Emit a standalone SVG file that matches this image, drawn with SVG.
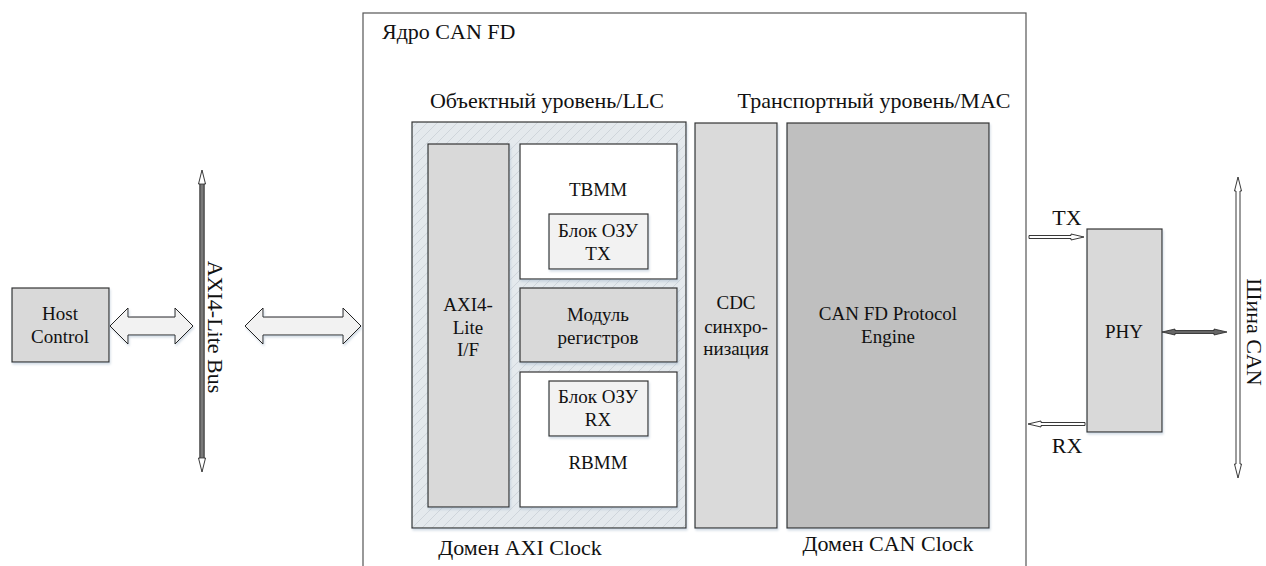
<svg xmlns="http://www.w3.org/2000/svg" width="1266" height="566" viewBox="0 0 1266 566">
<style>
  text { font-family: "Liberation Serif", "Times New Roman", serif; fill: #111; }
  .t18 { font-size: 19px; text-anchor: middle; }
  .t17 { font-size: 19px; text-anchor: middle; }
  .hdr { font-size: 22px; }
  .box { stroke: #333; stroke-width: 1.2; }
  .g1 { fill: #d9d9d9; }
  .g2 { fill: #bfbfbf; }
  .w { fill: #ffffff; }
  .lt { fill: #f2f2f2; }
  .arr { fill: #f2f2f2; stroke: #222; stroke-width: 1; stroke-linejoin: miter; }
  .thin { fill: #ffffff; stroke: #222; stroke-width: 0.9; }
</style>
<defs>
  <pattern id="hatch" patternUnits="userSpaceOnUse" width="10" height="10">
    <rect width="10" height="10" fill="#e4e9ed"/>
    <path d="M0,10 L10,0 M-1,1 L1,-1 M9,11 L11,9" stroke="#cdd3d9" stroke-width="0.9"/>
  </pattern>
  <filter id="sh" x="-10%" y="-10%" width="120%" height="120%">
    <feDropShadow dx="1" dy="2" stdDeviation="1.2" flood-color="#9fb3c8" flood-opacity="0.45"/>
  </filter>
</defs>

<g id="core">
  <rect x="363" y="13" width="663" height="600" fill="#ffffff" stroke="#555" stroke-width="1.2"/>
  <text class="hdr" x="382" y="39">Ядро CAN FD</text>
  <text class="hdr" x="547" y="108" text-anchor="middle">Объектный уровень/LLC</text>
  <text class="hdr" x="874" y="108" text-anchor="middle">Транспортный уровень/MAC</text>
  <text class="hdr" x="520" y="555" text-anchor="middle">Домен AXI Clock</text>
  <text class="hdr" x="888" y="551" text-anchor="middle">Домен CAN Clock</text>
</g>

<g id="axi-domain">
  <rect x="412" y="122" width="274" height="406" fill="url(#hatch)" class="box" filter="url(#sh)"/>
</g>

<g id="host-control">
  <rect x="12" y="288" width="97" height="74" class="box g1" filter="url(#sh)"/>
  <text class="t18" x="60" y="320">Host</text>
  <text class="t18" x="60" y="343">Control</text>
</g>

<g id="axi-if">
  <rect x="428" y="144" width="81" height="363" class="box g1" filter="url(#sh)"/>
  <text class="t18" x="468" y="311">AXI4-</text>
  <text class="t18" x="468" y="334">Lite</text>
  <text class="t18" x="468" y="356">I/F</text>
</g>

<g id="tbmm">
  <rect x="520" y="144" width="157" height="135" class="box w" filter="url(#sh)"/>
  <text class="t18" x="598" y="196">TBMM</text>
</g>
<g id="ram-tx">
  <rect x="549" y="214" width="99" height="55" class="box lt" filter="url(#sh)"/>
  <text class="t17" x="598" y="237">Блок ОЗУ</text>
  <text class="t17" x="598" y="260">TX</text>
</g>

<g id="regs">
  <rect x="520" y="288" width="157" height="74" class="box g1" filter="url(#sh)"/>
  <text class="t17" x="598" y="321">Модуль</text>
  <text class="t17" x="598" y="344">регистров</text>
</g>

<g id="rbmm">
  <rect x="520" y="372" width="157" height="135" class="box w" filter="url(#sh)"/>
  <text class="t18" x="598" y="469">RBMM</text>
</g>
<g id="ram-rx">
  <rect x="549" y="381" width="99" height="55" class="box lt" filter="url(#sh)"/>
  <text class="t17" x="598" y="403">Блок ОЗУ</text>
  <text class="t17" x="598" y="426">RX</text>
</g>

<g id="cdc">
  <rect x="695" y="123" width="82" height="405" fill="#dadada" class="box" filter="url(#sh)"/>
  <text class="t18" x="736" y="309">CDC</text>
  <text class="t18" x="736" y="333">синхро-</text>
  <text class="t18" x="736" y="355">низация</text>
</g>

<g id="protocol-engine">
  <rect x="787" y="123" width="202" height="405" class="box g2" filter="url(#sh)"/>
  <text class="t18" x="888" y="320">CAN FD Protocol</text>
  <text class="t18" x="888" y="343">Engine</text>
</g>

<g id="phy">
  <rect x="1087" y="229" width="75" height="203" class="box g1" filter="url(#sh)"/>
  <text class="t17" x="1124" y="338">PHY</text>
</g>

<g id="axi-bus">
  <polygon class="thin" points="202,170 205.5,184 204,184 204,458 205.5,458 202,472 198.5,458 200,458 200,184 198.5,184"/>
  <rect x="200" y="184" width="4" height="274" fill="#7a7a7a" stroke="#333" stroke-width="0.8"/>
  <text font-size="22" transform="translate(208,327) rotate(90)" text-anchor="middle">AXI4-Lite Bus</text>
</g>

<g id="can-bus">
  <polygon class="thin" points="1238,177 1241.5,191 1240,191 1240,464 1241.5,464 1238,478 1234.5,464 1236,464 1236,191 1234.5,191"/>
  <text font-size="22" transform="translate(1247,332) rotate(90)" text-anchor="middle">Шина CAN</text>
</g>

<g id="connectors">
  <polygon class="arr" filter="url(#sh)" points="110,326 128,308 128,317 175,317 175,308 193,326 175,344 175,335 128,335 128,344"/>
  <polygon class="arr" filter="url(#sh)" points="245,326 263,308 263,317 343,317 343,308 361,326 343,344 343,335 263,335 263,344"/>
  <polygon class="thin" points="1029,235.5 1071,235.5 1071,234 1084,237 1071,240 1071,238.5 1029,238.5"/>
  <polygon class="thin" points="1085,422.5 1041,422.5 1041,421 1028,424 1041,427 1041,425.5 1085,425.5"/>
  <polygon points="1162,332 1175,329 1175,330.5 1214,330.5 1214,329 1227,332 1214,335 1214,333.5 1175,333.5 1175,335" fill="#666" stroke="#222" stroke-width="0.8"/>
  <text font-size="22" x="1067" y="225" text-anchor="middle">TX</text>
  <text font-size="22" x="1067" y="453" text-anchor="middle">RX</text>
</g>
</svg>
